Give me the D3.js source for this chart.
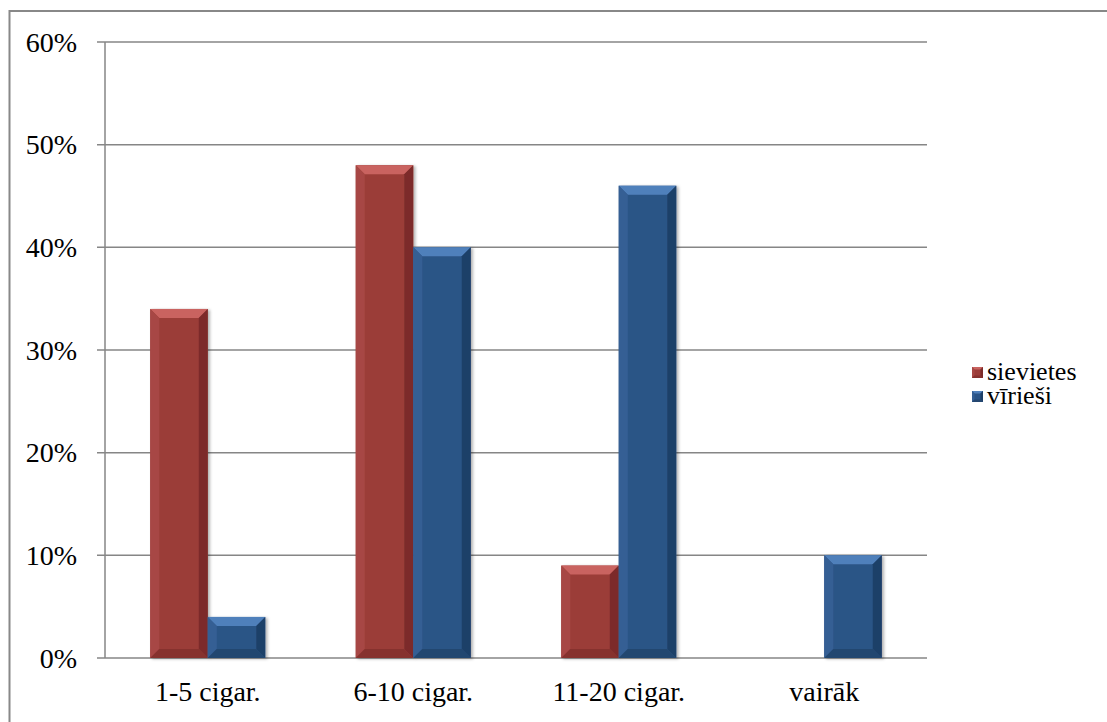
<!DOCTYPE html>
<html>
<head>
<meta charset="utf-8">
<script src="https://cdn.jsdelivr.net/npm/d3@7"></script>
<style>
  html, body { margin: 0; padding: 0; background: #fff; }
  svg { display: block; }
</style>
</head>
<body>
<svg id="chart" width="1107" height="722"></svg>
<script>
// Data
const categories = ["1-5 cigar.", "6-10 cigar.", "11-20 cigar.", "vairāk"];
const seriesNames = ["sievietes", "vīrieši"];
const sievietes = [34, 48, 9, null];
const virieši = [4, 40, 46, 10];
const yTicks = [0, 10, 20, 30, 40, 50, 60];

const seriesValues = [sievietes, virieši];
const palette = [
  { base: "#9b3c39", top: "#c96360", left: "#a74744", right: "#7b2c2a", bottom: "#86312f" },
  { base: "#2b5486", top: "#5080bb", left: "#355f94", right: "#1f4068", bottom: "#244770" }
];
const FONT = "'Times New Roman', Tinos, 'Liberation Serif', 'DejaVu Serif', 'Noto Serif', serif";

const svg = d3.select("#chart");

// Outer chart frame
svg.append("rect")
  .attr("x", 9.5).attr("y", 11).attr("width", 1110).attr("height", 730)
  .attr("fill", "none").attr("stroke", "#888").attr("stroke-width", 2);

const plot = { left: 105, right: 927, top: 42, bottom: 658 };

const x0 = d3.scaleBand().domain(categories).range([plot.left, plot.right]);
const x1 = d3.scaleBand().domain(seriesNames).range([0, 115]);
const y = d3.scaleLinear().domain([0, 60]).range([plot.bottom, plot.top]);

// Drop shadow for bars
const defs = svg.append("defs");
const f = defs.append("filter").attr("id", "shadow")
  .attr("x", "-20%").attr("y", "-20%").attr("width", "140%").attr("height", "140%");
f.append("feDropShadow").attr("dx", 2).attr("dy", 1).attr("stdDeviation", 1.5)
  .attr("flood-color", "#000").attr("flood-opacity", 0.3);

// Gridlines with outside tick marks
svg.append("g").selectAll("line").data(yTicks).join("line")
  .attr("x1", plot.left - 8).attr("x2", plot.right)
  .attr("y1", d => y(d)).attr("y2", d => y(d))
  .attr("stroke", "#868686").attr("stroke-width", 1.5);

// Vertical axis line
svg.append("line")
  .attr("x1", plot.left).attr("x2", plot.left)
  .attr("y1", plot.top).attr("y2", plot.bottom)
  .attr("stroke", "#868686").attr("stroke-width", 1.5);

function label(sel, size) {
  return sel.style("font-family", FONT).style("font-size", (size || 28) + "px").style("fill", "#000");
}

// Y tick labels
svg.append("g").selectAll("text").data(yTicks).join("text")
  .attr("x", 77).attr("y", d => y(d)).attr("dy", "0.35em")
  .attr("text-anchor", "end")
  .call(label)
  .text(d => d + "%");

// X labels
svg.append("g").selectAll("text").data(categories).join("text")
  .attr("x", d => x0(d) + x0.bandwidth() / 2).attr("y", 701)
  .attr("text-anchor", "middle")
  .call(label)
  .text(d => d);

// Bars with bevelled faces
const bevel = 9;
const groupOffset = (x0.bandwidth() - 115) / 2;
function drawBevelBox(g, bx, top, bw, bot, b, c) {
  g.append("rect").attr("x", bx).attr("y", top).attr("width", bw).attr("height", bot - top).attr("fill", c.base);
  g.append("polygon").attr("fill", c.top)
    .attr("points", [[bx, top], [bx + bw, top], [bx + bw - b, top + b], [bx + b, top + b]].join(" "));
  g.append("polygon").attr("fill", c.left)
    .attr("points", [[bx, top], [bx + b, top + b], [bx + b, bot - b], [bx, bot]].join(" "));
  g.append("polygon").attr("fill", c.right)
    .attr("points", [[bx + bw, top], [bx + bw - b, top + b], [bx + bw - b, bot - b], [bx + bw, bot]].join(" "));
  g.append("polygon").attr("fill", c.bottom)
    .attr("points", [[bx, bot], [bx + b, bot - b], [bx + bw - b, bot - b], [bx + bw, bot]].join(" "));
}

const bars = svg.append("g");
categories.forEach((cat, i) => {
  seriesNames.forEach((s, j) => {
    const v = seriesValues[j][i];
    if (v == null) return;
    const bx = x0(cat) + groupOffset + x1(s);
    const bw = x1.bandwidth();
    const top = y(v), bot = y(0);
    const b = Math.min(bevel, (bot - top) / 2, bw / 2);
    const g = bars.append("g").attr("filter", "url(#shadow)");
    drawBevelBox(g, bx, top, bw, bot, b, palette[j]);
  });
});

// Legend
const legend = svg.append("g");
seriesNames.forEach((s, j) => {
  const ly = 372 + j * 24;
  const lg = legend.append("g");
  drawBevelBox(lg, 972, ly - 5, 11, ly + 6, 2.5, palette[j]);
  lg.append("text").attr("x", 987).attr("y", ly).attr("dy", "0.32em")
    .call(label, 26).text(s);
});
</script>
</body>
</html>
